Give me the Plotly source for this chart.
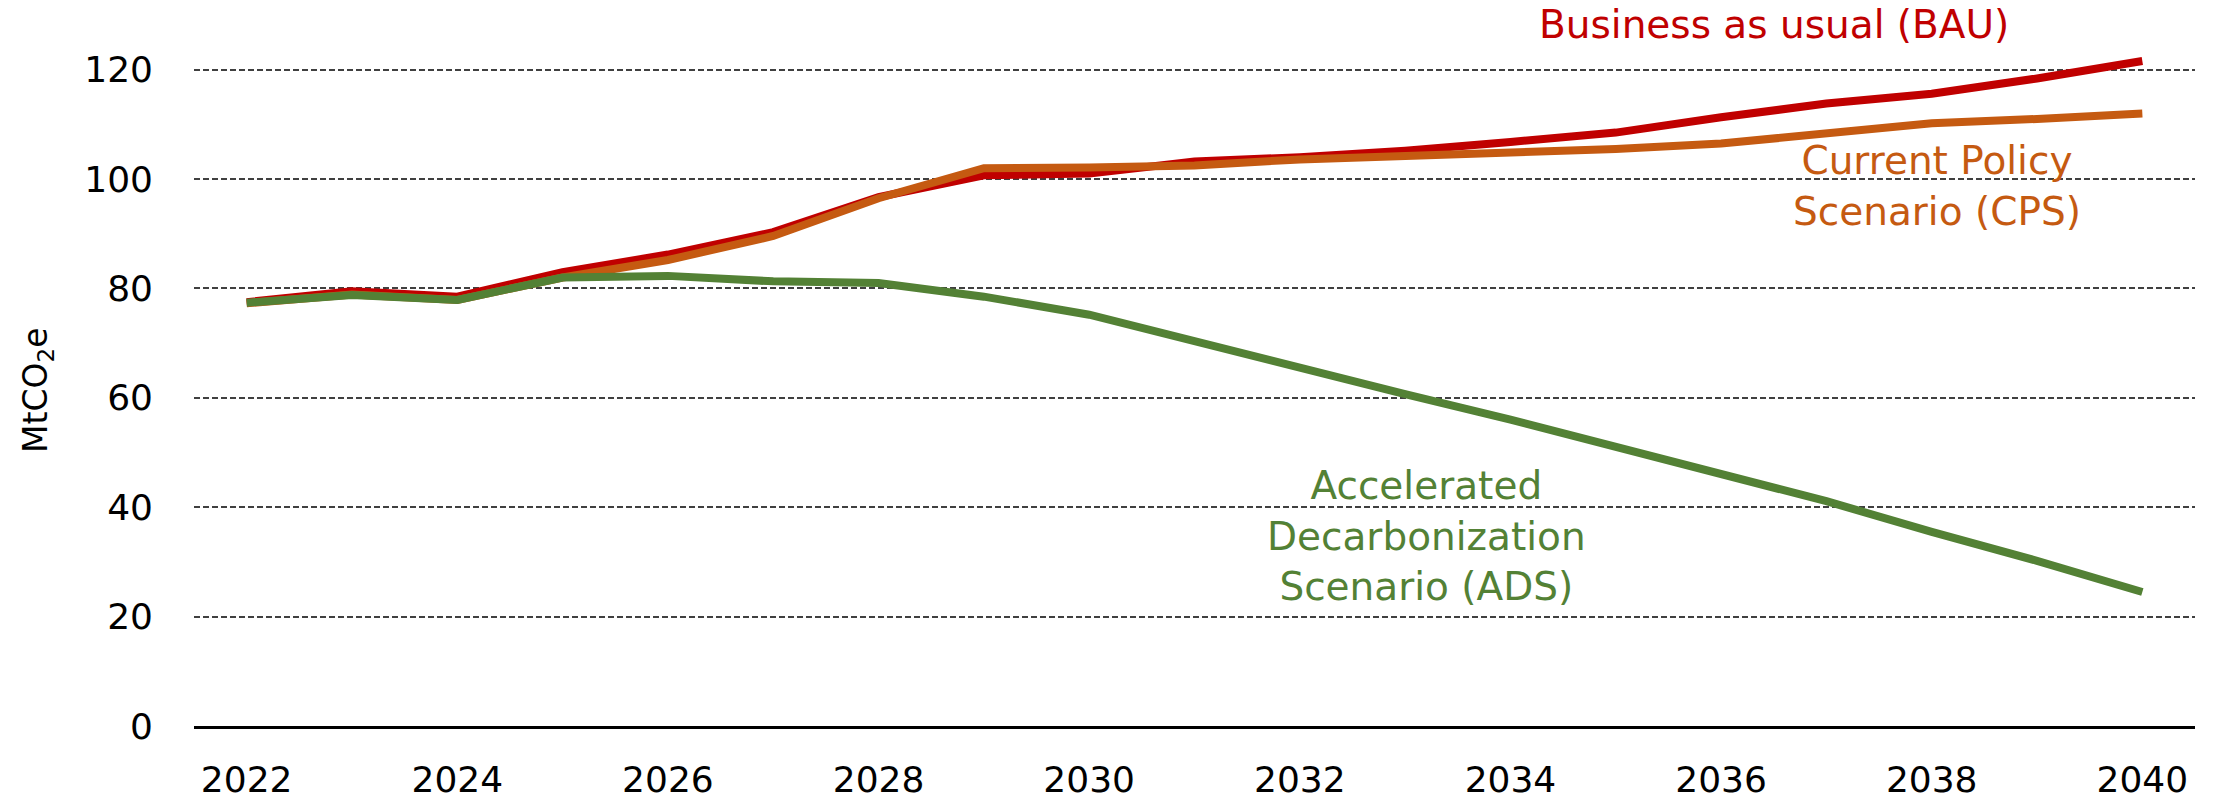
import plotly.graph_objects as go

years = list(range(2022, 2041))
bau = [77.5, 79.5, 78.5, 83.0, 86.2, 90.3, 96.7, 100.7, 101.0, 103.2, 104.0, 105.2, 106.8, 108.5, 111.3, 113.8, 115.6, 118.4, 121.6]
cps = [77.3, 78.9, 77.9, 82.0, 85.2, 89.6, 96.5, 102.0, 102.1, 102.5, 103.6, 104.2, 104.8, 105.5, 106.5, 108.4, 110.2, 111.0, 112.0]
ads = [77.4, 78.8, 77.9, 82.0, 82.3, 81.3, 81.0, 78.5, 75.2, 70.3, 65.6, 60.7, 56.0, 51.0, 46.1, 41.1, 35.5, 30.2, 24.5]

y_ticks = [0, 20, 40, 60, 80, 100, 120]
x_ticks = list(range(2022, 2041, 2))

RED = "#C00000"
ORANGE = "#C55A11"
GREEN = "#538135"
FONT = "DejaVu Sans"

fig = go.Figure()
fig.add_trace(go.Scatter(x=years, y=bau, mode="lines", line=dict(color=RED, width=8), name="BAU"))
fig.add_trace(go.Scatter(x=years, y=cps, mode="lines", line=dict(color=ORANGE, width=8), name="CPS"))
fig.add_trace(go.Scatter(x=years, y=ads, mode="lines", line=dict(color=GREEN, width=8), name="ADS"))

fig.add_annotation(x=2036.5, y=128.3, text="Business as usual (BAU)", showarrow=False,
                   font=dict(family=FONT, size=39, color=RED))
fig.add_annotation(x=2038.05, y=98.7, text="Current Policy<br>Scenario (CPS)", showarrow=False,
                   font=dict(family=FONT, size=39, color=ORANGE))
fig.add_annotation(x=2033.2, y=34.7, text="Accelerated<br>Decarbonization<br>Scenario (ADS)", showarrow=False,
                   font=dict(family=FONT, size=39, color=GREEN))
fig.add_annotation(xref="paper", yref="paper", x=-0.078, y=0.4726, xanchor="center", yanchor="middle",
                   textangle=-90, text="MtCO<sub>2</sub>e", showarrow=False,
                   font=dict(family=FONT, size=33, color="black"))

fig.update_layout(
    width=2223, height=804,
    margin=dict(l=194, r=28, t=15, b=78),
    plot_bgcolor="white", paper_bgcolor="white",
    showlegend=False,
    font=dict(family=FONT, size=36, color="black"),
)
fig.update_xaxes(range=[2021.5, 2040.5], tickvals=x_ticks, showgrid=False,
                 showline=True, linecolor="black", linewidth=3,
                 ticks="", ticklabelstandoff=20, zeroline=False, automargin=False,
                 tickfont=dict(family=FONT, size=36, color="black"))
fig.update_yaxes(range=[0, 130], tickvals=y_ticks, showgrid=True, gridcolor="#404040", gridwidth=2,
                 griddash="6px,3px", zeroline=False, showline=False, automargin=False,
                 ticks="", ticklabelstandoff=40,
                 tickfont=dict(family=FONT, size=36, color="black"))

fig.write_html("out.html", config={"displayModeBar": False},
               post_script="document.body.style.margin='0px';document.body.style.overflow='hidden';")
